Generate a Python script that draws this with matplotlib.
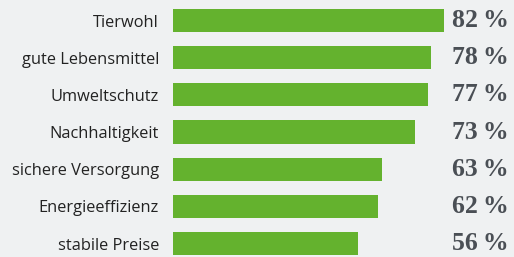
import matplotlib.pyplot as plt

# Survey: what matters most (share of respondents)
categories = ["Tierwohl", "gute Lebensmittel", "Umweltschutz", "Nachhaltigkeit",
              "sichere Versorgung", "Energieeffizienz", "stabile Preise"]
values = [82, 78, 77, 73, 63, 62, 56]

bg = "#eff1f2"
green = "#64b22e"

fig = plt.figure(figsize=(5.14, 2.57), dpi=100, facecolor=bg)
ax = fig.add_axes([173 / 514, 0, 341 / 514, 1], facecolor=bg)

pos = list(range(len(categories)))
ax.barh(pos, values, height=0.62, color=green)

ax.set_xlim(0, 103)
ax.set_ylim(6.363, -0.552)

ax.set_yticks(pos)
ax.set_yticklabels(categories, fontsize=11.8, color="#222222", family="Open Sans")
ax.tick_params(axis="y", length=0, pad=10)
ax.set_xticks([])
for s in ax.spines.values():
    s.set_visible(False)

label_x = max(values) + 2.3
for p, v in zip(pos, values):
    ax.text(label_x, p, f"{v}\u2009%", va="center", ha="left",
            fontsize=18.5, fontweight="bold", color="#4a4f55",
            family=["Liberation Serif", "DejaVu Serif"])

fig.savefig("out.png", dpi=100, facecolor=bg)
